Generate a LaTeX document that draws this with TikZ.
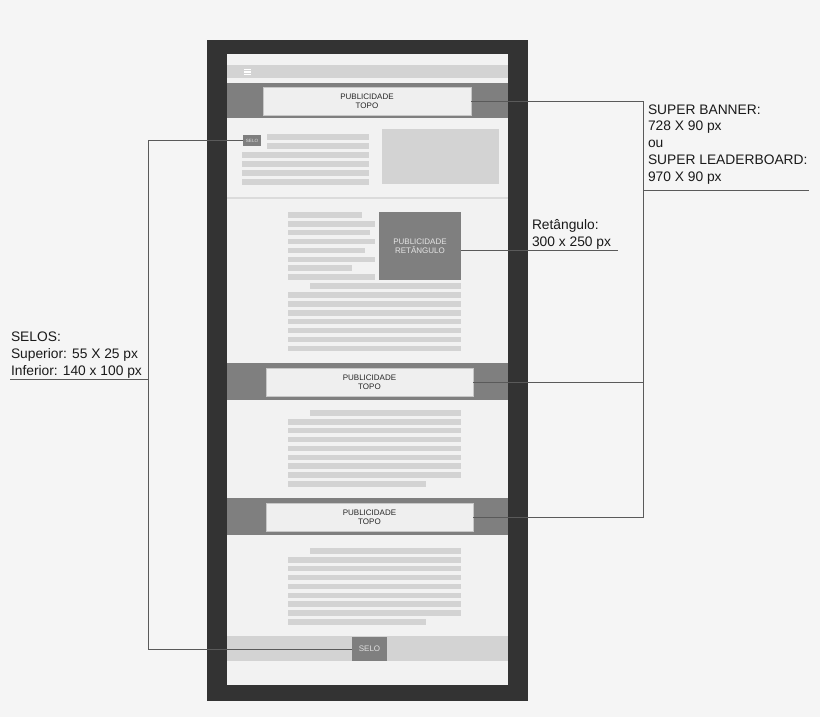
\documentclass[tikz,border=0pt]{standalone}
\usepackage{fontspec}
\setmainfont{Liberation Sans}
\definecolor{pagebg}{HTML}{F5F5F5}
\definecolor{framec}{HTML}{333333}
\definecolor{screenc}{HTML}{F2F2F2}
\definecolor{lightg}{HTML}{D3D3D3}
\definecolor{midg}{HTML}{7F7F7F}
\definecolor{boxc}{HTML}{EFEFEF}
\definecolor{connc}{HTML}{5A5A5A}
\definecolor{txtc}{HTML}{1A1A1A}
\begin{document}
\begin{tikzpicture}[x=1pt,y=-1pt,
  blk/.style={draw=none,inner sep=0pt,outer sep=0pt,anchor=north west,rectangle},
  adbox/.style={blk,fill=boxc,draw=black!22,line width=0.5pt,font=\fontsize{8}{9.2}\selectfont,align=center,text=black!85},
  conn/.style={draw=connc,line width=0.8pt},
  lbl/.style={inner sep=0pt,outer sep=0pt,anchor=north west,align=left,text=txtc,font=\fontsize{13.8}{16.7}\selectfont},
  ph/.style={fill=lightg}]
\useasboundingbox (0,0) rectangle (820,717);
\fill[pagebg] (0,0) rectangle (820,717);
% phone
\node[blk,fill=framec,minimum width=321pt,minimum height=661pt] (phone) at (207,40) {};
\node[blk,fill=screenc,minimum width=281pt,minimum height=631pt] (screen) at (227,54) {};
% nav bar
\node[blk,fill=lightg,minimum width=281pt,minimum height=13pt] (nav) at (227,65) {};
\foreach \yy in {69,71.5,74} \fill[white] (244,\yy) rectangle (251,\yy+1.2);
% band 1
\node[blk,fill=midg,minimum width=281pt,minimum height=35pt] (band1) at (227,83) {};
\node[adbox,minimum width=208pt,minimum height=28pt] (ad1) at (263,87) {PUBLICIDADE\\TOPO};
% section 1
\node[blk,fill=midg,minimum width=18pt,minimum height=11pt,text=black!12,font=\fontsize{4.6}{5}\selectfont,align=center] (selo1) at (243,135) {SELO};
\foreach \yy in {134,143} \fill[ph] (267,\yy) rectangle (369,\yy+5.7);
\foreach \yy in {152,161,170,179} \fill[ph] (242,\yy) rectangle (369,\yy+5.7);
\node[blk,fill=lightg,minimum width=117pt,minimum height=55pt] (img1) at (382,129) {};
\fill[black!14] (227,196.8) rectangle (508,199);
% section 2
\foreach \i/\xe in {0/362,1/375,2/370,3/375,4/365,5/375,6/352,7/375}
  \fill[ph] (288,212+8.9*\i) rectangle (\xe,212+8.9*\i+5.6);
\fill[ph] (310,283.2) rectangle (461,288.8);
\foreach \i in {9,...,15} \fill[ph] (288,212+8.9*\i) rectangle (461,212+8.9*\i+5.6);
\node[blk,fill=midg,minimum width=82pt,minimum height=68pt,text=black!10,font=\fontsize{8}{9.2}\selectfont,align=center] (rect) at (379,212) {PUBLICIDADE\\RETÂNGULO};
% band 2
\node[blk,fill=midg,minimum width=281pt,minimum height=37pt] (band2) at (227,363) {};
\node[adbox,minimum width=207pt,minimum height=28pt] (ad2) at (266,368) {PUBLICIDADE\\TOPO};
% section 3
\fill[ph] (310,410) rectangle (461,415.6);
\foreach \i in {1,...,7} \fill[ph] (288,410+8.9*\i) rectangle (461,410+8.9*\i+5.6);
\fill[ph] (288,481.2) rectangle (426,486.8);
% band 3
\node[blk,fill=midg,minimum width=281pt,minimum height=37pt] (band3) at (227,498) {};
\node[adbox,minimum width=207pt,minimum height=28pt] (ad3) at (266,503) {PUBLICIDADE\\TOPO};
% section 4
\fill[ph] (310,548) rectangle (461,553.6);
\foreach \i in {1,...,7} \fill[ph] (288,548+8.9*\i) rectangle (461,548+8.9*\i+5.6);
\fill[ph] (288,619.2) rectangle (426,624.8);
% footer
\node[blk,fill=lightg,minimum width=281pt,minimum height=25pt] (footer) at (227,636) {};
\node[blk,fill=midg,minimum width=35pt,minimum height=24pt,text=black!12,font=\fontsize{8}{9}\selectfont,align=center] (selo2) at (352,637) {SELO};
% labels
\node[lbl] (sbtxt) at (648,104.6) {SUPER BANNER:\\728 X 90 px\\ou\\SUPER LEADERBOARD:\\970 X 90 px};
\node[lbl] (rettxt) at (532,219.6) {Retângulo:\\300 x 250 px};
\node[lbl] (selotxt) at (11,332) {SELOS:\\Superior: 55 X 25 px\\Inferior: 140 x 100 px};
% connectors
\coordinate (rx) at (643,0);
\coordinate (lx) at (148,0);
\coordinate (sbu) at (809,190);
\coordinate (retu) at (618,250);
\coordinate (lu) at (10,379);
\draw[conn] (ad1.east) -| (rx |- ad3.east) -- (ad3.east);
\draw[conn] (ad2.east) -- (ad2.east -| rx);
\draw[conn] (sbu -| rx) -- (sbu);
\draw[conn] (rect.east |- retu) -- (retu);
\draw[conn] (selo1.west) -| (lx |- selo2.west) -- (selo2.west);
\draw[conn] (lu) -- (lu -| lx);
\end{tikzpicture}
\end{document}
